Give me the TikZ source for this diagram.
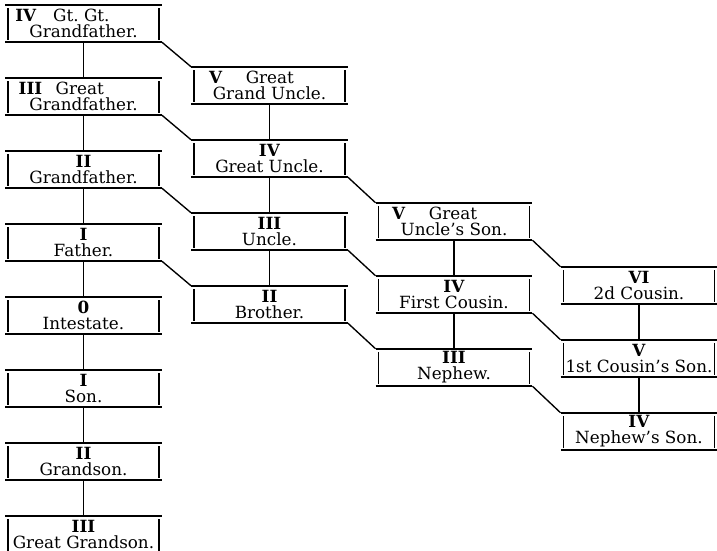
\documentclass[tikz,border=0pt]{standalone}
\usepackage{fontspec}
\setmainfont{DejaVu Serif}
\newcommand*\kinfont{\fontsize{8.6}{8.3}\selectfont}
\tikzset{
  kinline/.style={line width=0.9pt},
  kinside/.style={line width=0.7pt},
  link/.style={line width=0.7pt},
  kin/.style={minimum width=2.81cm, minimum height=0.66cm, inner sep=0pt,
    align=center, font=\kinfont,
    append after command={
      (\tikzlastnode.north west) edge[kinline] (\tikzlastnode.north east)
      (\tikzlastnode.south west) edge[kinline] (\tikzlastnode.south east)
      ([xshift=1.5pt,yshift=-1.8pt]\tikzlastnode.north west) edge[kinside] ([xshift=1.5pt,yshift=1.2pt]\tikzlastnode.south west)
      ([xshift=-1.5pt,yshift=-1.8pt]\tikzlastnode.north east) edge[kinside] ([xshift=-1.5pt,yshift=1.2pt]\tikzlastnode.south east)
    }}
}

\begin{document}
\begin{tikzpicture}[x=0.018cm, y=-0.018cm]
		\useasboundingbox (0,0) rectangle (717,551);
		% Direct line
		\node[kin] (gggf) at (83.5,23.5) {\textbf{IV}\hspace{1em}Gt.\ Gt.\hspace{0.76cm}\mbox{}\\Grandfather.};
		\node[kin] (ggf) at (83.5,96.5) {\textbf{III}\hspace{0.8em}Great\hspace{0.8cm}\mbox{}\\Grandfather.};
		\node[kin] (gf) at (83.5,169.5) {\textbf{II}\\Grandfather.};
		\node[kin] (father) at (83.5,242.5) {\textbf{I}\\Father.};
		\node[kin] (intestate) at (83.5,315.5) {\textbf{0}\\Intestate.};
		\node[kin] (son) at (83.5,388.5) {\textbf{I}\\Son.};
		\node[kin] (grandson) at (83.5,461.5) {\textbf{II}\\Grandson.};
		\node[kin] (ggson) at (83.5,534.5) {\textbf{III}\\Great Grandson.};
		% Uncles and brother
		\node[kin] (ggu) at (269.5,85.5) {\textbf{V}\hspace{1.4em}Great\hspace{0.65cm}\mbox{}\\Grand Uncle.};
		\node[kin] (gu) at (269.5,158.5) {\textbf{IV}\\Great Uncle.};
		\node[kin] (uncle) at (269.5,231.5) {\textbf{III}\\Uncle.};
		\node[kin] (brother) at (269.5,304.5) {\textbf{II}\\Brother.};
		% Cousins and nephew
		\node[kin] (gus) at (454,221.5) {\textbf{V}\hspace{1.4em}Great\hspace{0.7cm}\mbox{}\\Uncle's Son.};
		\node[kin] (cousin) at (454,294.5) {\textbf{IV}\\First Cousin.};
		\node[kin] (nephew) at (454,367.5) {\textbf{III}\\Nephew.};
		% Second cousin line
		\node[kin] (cousin2) at (639,285.5) {\textbf{VI}\\2d Cousin.};
		\node[kin] (cousinson) at (639,358.5) {\textbf{V}\\1st Cousin's Son.};
		\node[kin] (nephewson) at (639,431.5) {\textbf{IV}\\Nephew's Son.};

		% Descent lines
		\foreach \a/\b in {gggf/ggf, ggf/gf, gf/father, father/intestate, intestate/son, son/grandson, grandson/ggson,
				ggu/gu, gu/uncle, uncle/brother, gus/cousin, cousin/nephew, cousin2/cousinson, cousinson/nephewson}
			\draw[link] (\a.south) -- (\b.north);
		% Collateral lines
		\foreach \a/\b in {gggf/ggu, ggf/gu, gf/uncle, father/brother, gu/gus, uncle/cousin, brother/nephew,
				gus/cousin2, cousin/cousinson, nephew/nephewson}
			\draw[link] (\a.south east) -- (\b.north west);
	\end{tikzpicture}
\end{document}
